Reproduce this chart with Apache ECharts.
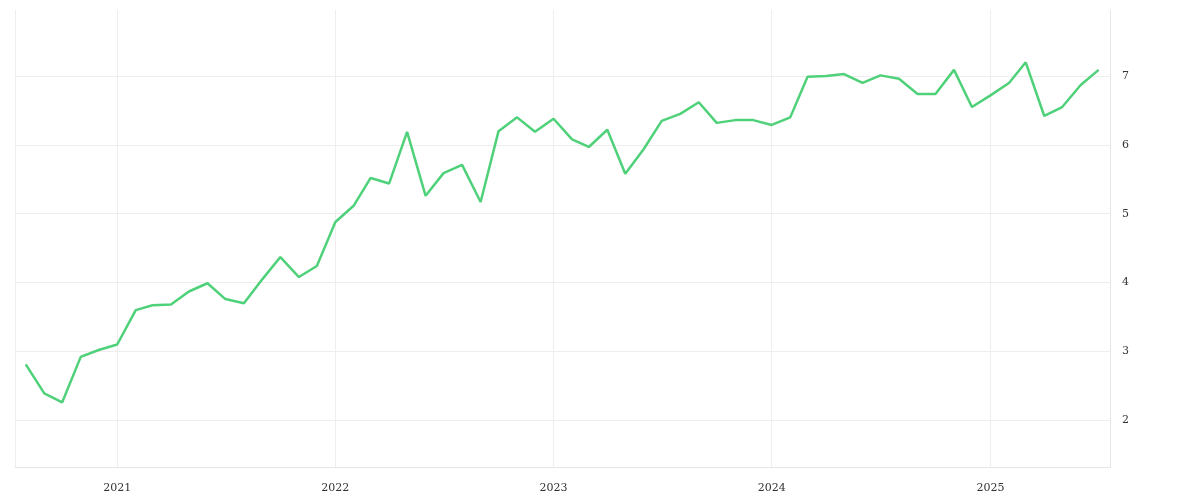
<!DOCTYPE html>
<html><head><meta charset="utf-8">
<script src="https://cdn.jsdelivr.net/npm/echarts@6/dist/echarts.min.js"></script>
<style>html,body{margin:0;padding:0;background:#fff}#c{width:1200px;height:500px}</style>
</head><body><div id="c"></div>
<script>
const dates = ['2020-08','2020-09','2020-10','2020-11','2020-12','2021-01','2021-02','2021-03','2021-04','2021-05','2021-06','2021-07','2021-08','2021-09','2021-10','2021-11','2021-12','2022-01','2022-02','2022-03','2022-04','2022-05','2022-06','2022-07','2022-08','2022-09','2022-10','2022-11','2022-12','2023-01','2023-02','2023-03','2023-04','2023-05','2023-06','2023-07','2023-08','2023-09','2023-10','2023-11','2023-12','2024-01','2024-02','2024-03','2024-04','2024-05','2024-06','2024-07','2024-08','2024-09','2024-10','2024-11','2024-12','2025-01','2025-02','2025-03','2025-04','2025-05','2025-06','2025-07'];
const values = [2.81,2.39,2.26,2.92,3.02,3.10,3.60,3.67,3.68,3.87,3.99,3.76,3.70,4.05,4.37,4.08,4.24,4.88,5.12,5.52,5.44,6.19,5.26,5.59,5.71,5.17,6.20,6.40,6.19,6.38,6.08,5.97,6.22,5.58,5.94,6.35,6.45,6.62,6.32,6.36,6.36,6.29,6.40,6.99,7.00,7.03,6.90,7.01,6.96,6.74,6.74,7.09,6.55,6.72,6.90,7.20,6.42,6.55,6.87,7.09];
const yTicks = [2,3,4,5,6,7];
const chart = echarts.init(document.getElementById('c'));
const font = 'DejaVu Serif';
chart.setOption({
  animation:false,
  grid:{left:15,right:90,top:10,bottom:33},
  xAxis:{type:'time',min:'2020-07-14',max:'2025-07-20',
    axisLine:{show:true,lineStyle:{color:'#e6e6e6'}},axisTick:{show:false},
    splitLine:{show:true,lineStyle:{color:'#eeeeee'}},
    interval:365*24*3600*1000,
    axisLabel:{color:'#333',fontFamily:font,fontSize:11,margin:16,
      formatter:v=>{const d=new Date(v);return (d.getMonth()===0&&d.getDate()===1)?String(d.getFullYear()):'';}}},
  yAxis:{type:'value',position:'right',min:1.32,max:7.96,
    axisLine:{show:true,lineStyle:{color:'#e6e6e6'}},axisTick:{show:false},
    splitLine:{show:true,lineStyle:{color:'#eeeeee'}},
    axisLabel:{color:'#333',fontFamily:font,fontSize:11,margin:12,
      customValues:yTicks,formatter:v=>String(v)},
    axisTick:{show:false,customValues:yTicks},
    splitLine:{show:true,lineStyle:{color:'#eeeeee'},customValues:yTicks}},
  series:[{type:'line',data:dates.map((d,i)=>[d+'-01',values[i]]),showSymbol:false,
    lineStyle:{color:'#4fd17a',width:2.5},itemStyle:{color:'#4fd17a'}}]
});
</script></body></html>
